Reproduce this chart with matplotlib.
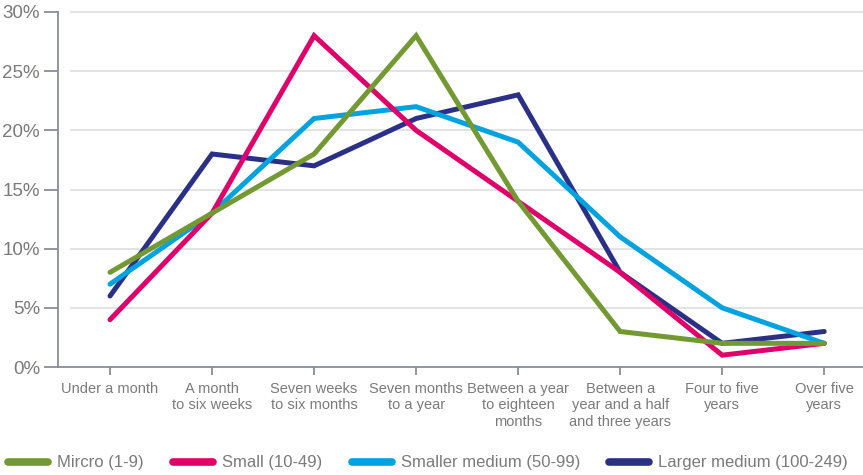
import matplotlib.pyplot as plt

plt.rcParams['font.family'] = ['Liberation Sans', 'DejaVu Sans']

# Data (percent)
categories = [
    'Under a month',
    'A month\nto six weeks',
    'Seven weeks\nto six months',
    'Seven months\nto a year',
    'Between a year\nto eighteen\nmonths',
    'Between a\nyear and a half\nand three years',
    'Four to five\nyears',
    'Over five\nyears',
]
micro = [8, 13, 18, 28, 14, 3, 2, 2]
small = [4, 13, 28, 20, 14, 8, 1, 2]
smaller_medium = [7, 13, 21, 22, 19, 11, 5, 2]
larger_medium = [6, 18, 17, 21, 23, 8, 2, 3]
y_ticks = [0, 5, 10, 15, 20, 25, 30]

series = [
    ('Mircro (1-9)', micro, '#739a32'),
    ('Small (10-49)', small, '#df0069'),
    ('Smaller medium (50-99)', smaller_medium, '#00a3e0'),
    ('Larger medium (100-249)', larger_medium, '#2b3087'),
]
draw_order = [3, 2, 1, 0]

W, H = 863, 475
fig = plt.figure(figsize=(W / 100, H / 100), dpi=100)
ax = fig.add_axes([58 / W, 108 / H, (W - 58) / W, 355 / H])

x = list(range(len(categories)))
handles = {}
for i in draw_order:
    label, vals, color = series[i]
    ln, = ax.plot(x, vals, color=color, lw=3.6, solid_capstyle='round',
                  solid_joinstyle='miter', label=label, clip_on=False, zorder=3 + (3 - i))
    handles[i] = ln

ax.set_xlim(-0.51, 7.38)
ax.set_ylim(0, 30)

# light gridlines (start a little right of the spine)
for yt in y_ticks[1:]:
    ax.plot([-0.38, 7.38], [yt, yt], color='#e0e0e0', lw=1.3, zorder=1, clip_on=False)

for s in ['top', 'right']:
    ax.spines[s].set_visible(False)
for s in ['left', 'bottom']:
    ax.spines[s].set_color('#8a8c99')
    ax.spines[s].set_linewidth(1.3)

ax.set_yticks(y_ticks)
ax.set_yticklabels([f'{v}%' for v in y_ticks])
ax.tick_params(axis='y', length=10, width=1.3, color='#8a8c99', pad=3,
               labelsize=13.5, labelcolor='#7a7a7a')
ax.set_xticks(x)
ax.set_xticklabels(categories, linespacing=1.2)
ax.tick_params(axis='x', length=6, width=1.3, color='#8a8c99', pad=5,
               labelsize=10.5, labelcolor='#7a7a7a')

leg = fig.legend([handles[i] for i in range(4)], [s[0] for s in series],
                 loc='center left', bbox_to_anchor=(8 / W, 1 - 463 / H), ncol=4,
                 frameon=False, fontsize=12, handlelength=2.4, handletextpad=0.55,
                 columnspacing=1.75, borderaxespad=0, borderpad=0)
for t in leg.get_texts():
    t.set_color('#7a7a7a')
for h in leg.legend_handles:
    h.set_linewidth(5.5)
    h.set_solid_capstyle('round')

fig.savefig('out.png', dpi=100)
